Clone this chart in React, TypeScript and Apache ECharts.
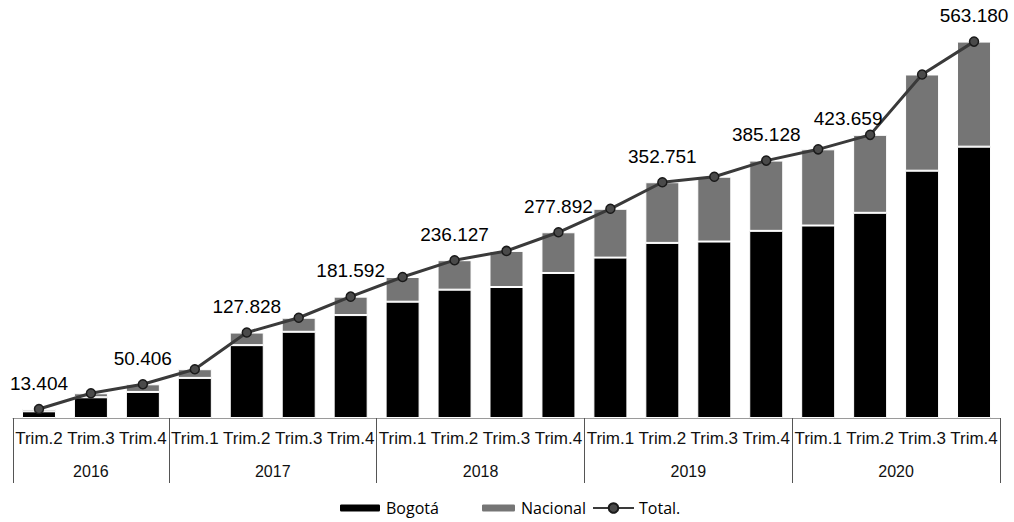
import React, { useEffect, useRef } from "react";
import * as echarts from "echarts";

const years = ["2016", "2017", "2018", "2019", "2020"];
const quarters = [
  ["Trim.2", "Trim.3", "Trim.4"],
  ["Trim.1", "Trim.2", "Trim.3", "Trim.4"],
  ["Trim.1", "Trim.2", "Trim.3", "Trim.4"],
  ["Trim.1", "Trim.2", "Trim.3", "Trim.4"],
  ["Trim.1", "Trim.2", "Trim.3", "Trim.4"],
];
const bogota = [10, 31, 39, 60, 109, 129, 154, 174, 192, 196, 217, 240, 262, 264, 280, 288, 307, 370, 406];
const total = [13.404, 37, 50.406, 73, 127.828, 150, 181.592, 211, 236.127, 250, 277.892, 313, 352.751, 361, 385.128, 402, 423.659, 514, 563.18];
const labeledIdx = [0, 2, 4, 6, 8, 10, 12, 14, 16, 18];

const categories: string[] = [];
years.forEach((y, i) => quarters[i].forEach((q) => categories.push(y + " " + q)));
const nacional = total.map((t, i) => Math.round((t - bogota[i]) * 1000) / 1000);

const yearCenters: number[] = [];
const yearBounds: number[] = [-0.5];
{
  let start = 0;
  quarters.forEach((q) => {
    yearCenters.push(start + (q.length - 1) / 2);
    start += q.length;
    yearBounds.push(start - 0.5);
  });
}

const fmt = (v: number) => v.toFixed(3);

export default function App() {
  const ref = useRef<HTMLDivElement>(null);
  useEffect(() => {
    if (!ref.current) return;
    const chart = echarts.init(ref.current, undefined, { renderer: "svg" });
    const legendText = { fontFamily: "Open Sans", fontSize: 16, color: "#000" };
    chart.setOption({
      animation: false,
      backgroundColor: "#fff",
      grid: { left: 13, right: 14, top: 17, bottom: 104 },
      xAxis: [
        {
          type: "category",
          data: categories,
          position: "bottom",
          offset: 0,
          axisLine: { show: true, lineStyle: { color: "#9a9a9a", width: 1 } },
          axisTick: { show: false },
          axisLabel: {
            interval: 0,
            margin: 12,
            fontFamily: "Liberation Sans",
            fontSize: 17,
            color: "#111",
            formatter: (v: string) => v.split(" ")[1],
          },
        },
        {
          type: "value",
          min: -0.5,
          max: 18.5,
          position: "bottom",
          offset: 0,
          splitLine: { show: false },
          axisLine: { show: false },
          axisTick: {
            show: true,
            length: 65,
            customValues: yearBounds,
            lineStyle: { color: "#555", width: 1 },
          },
          axisLabel: {
            show: true,
            margin: 45,
            customValues: yearCenters,
            fontFamily: "Liberation Sans",
            fontSize: 16,
            color: "#111",
            formatter: (v: number) => {
              const i = yearCenters.findIndex((c) => Math.abs(c - v) < 0.01);
              return i >= 0 ? years[i] : "";
            },
          },
        },
      ],
      yAxis: { type: "value", min: 0, max: 600, show: false },
      legend: [
        {
          data: ["Bogotá"],
          left: 333,
          top: 495,
          itemWidth: 42,
          itemHeight: 9,
          textStyle: legendText,
        },
        {
          data: ["Nacional"],
          left: 475,
          top: 495,
          itemWidth: 35,
          itemHeight: 9,
          textStyle: legendText,
        },
        {
          data: ["Total."],
          left: 587,
          top: 495,
          itemWidth: 41,
          itemHeight: 12,
          textStyle: legendText,
        },
      ],
      series: [
        {
          name: "Bogotá",
          type: "bar",
          stack: "t",
          barWidth: 34,
          data: bogota,
          itemStyle: { color: "#000", borderColor: "#fff", borderWidth: 1 },
        },
        {
          name: "Nacional",
          type: "bar",
          stack: "t",
          barWidth: 34,
          data: nacional,
          itemStyle: { color: "#757575", borderColor: "#fff", borderWidth: 1 },
        },
        {
          name: "Total.",
          type: "line",
          data: total.map((v, i) => ({
            value: v,
            label: {
              show: labeledIdx.includes(i),
              ...(i === 16 ? { offset: [-22, 9] } : {}),
            },
          })),
          symbol: "circle",
          symbolSize: 9,
          lineStyle: { color: "#3a3a3a", width: 3 },
          itemStyle: { color: "#4a4a4a", borderColor: "#1a1a1a", borderWidth: 1.5 },
          label: {
            position: "top",
            distance: 11,
            fontFamily: "Liberation Sans",
            fontSize: 19,
            color: "#000",
            formatter: (p: any) => fmt(p.value),
          },
          z: 5,
        },
      ],
    });
    return () => chart.dispose();
  }, []);
  return (
    <div
      ref={ref}
      style={{ position: "absolute", left: 0, top: 0, width: 1014, height: 522 }}
    />
  );
}
